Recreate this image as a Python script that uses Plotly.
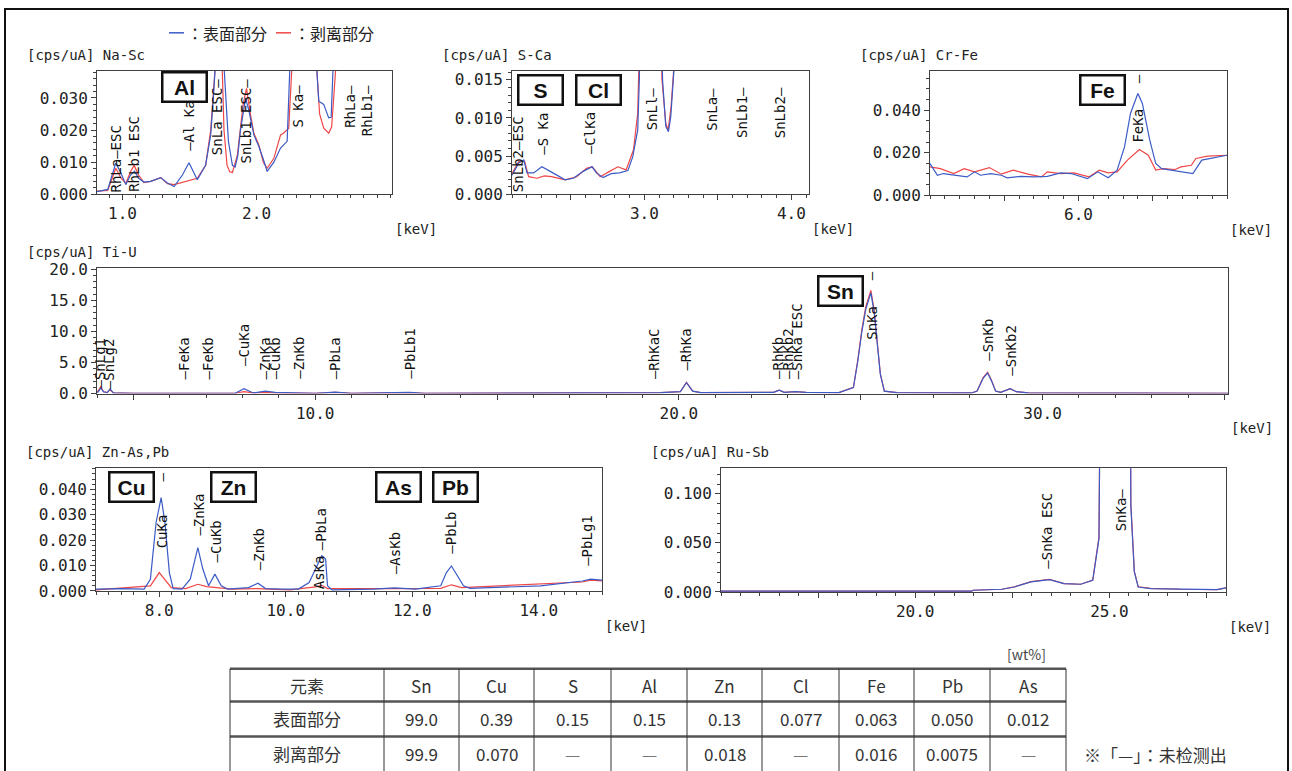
import plotly.graph_objects as go

W, H = 1292, 771
BLUE = "#3b5bc6"
RED = "#f04646"
AXC = "#404040"
MONO = "DejaVu Sans Mono"
CJK = "Noto Sans CJK JP"

# ---------------- spectra (keV, cps/uA) ----------------
# Na-Sc
nasc_blue_kev = [0.81, 0.89, 0.95, 0.99, 1.025, 1.06, 1.09, 1.12, 1.16, 1.21, 1.285, 1.335, 1.385, 1.447, 1.496,
                 1.53, 1.558, 1.62, 1.658, 1.682, 1.70, 1.75, 1.77, 1.79, 1.82, 1.84, 1.86, 1.88, 1.918, 1.943,
                 1.98, 2.017, 2.05, 2.079, 2.129, 2.179, 2.228, 2.253, 2.44, 2.464, 2.501, 2.538, 2.556, 2.576, 2.65]
nasc_blue_cps = [0.0008, 0.0015, 0.0097, 0.0065, 0.0030, 0.0060, 0.0072, 0.0050, 0.0038, 0.0040, 0.0052, 0.0035,
                 0.0024, 0.0060, 0.0098, 0.0070, 0.0045, 0.0090, 0.0185, 0.033, 0.045, 0.045, 0.030, 0.0165,
                 0.0090, 0.0085, 0.0120, 0.0200, 0.0300, 0.0260, 0.0185, 0.0149, 0.0110, 0.0071, 0.0100, 0.0144,
                 0.0165, 0.045, 0.045, 0.0290, 0.0280, 0.0238, 0.0240, 0.045, 0.045]
nasc_red_kev = [0.81, 0.89, 0.95, 0.99, 1.025, 1.06, 1.087, 1.12, 1.16, 1.21, 1.285, 1.335, 1.385, 1.447, 1.496,
                1.558, 1.62, 1.658, 1.682, 1.70, 1.74, 1.757, 1.78, 1.80, 1.82, 1.856, 1.90, 1.925, 1.95, 1.98,
                2.017, 2.05, 2.079, 2.129, 2.179, 2.20, 2.24, 2.27, 2.44, 2.47, 2.501, 2.538, 2.56, 2.60, 2.65]
nasc_red_cps = [0.0010, 0.0012, 0.0081, 0.0050, 0.0034, 0.0070, 0.0090, 0.0060, 0.0036, 0.0040, 0.0052, 0.0033,
                0.0030, 0.0037, 0.0041, 0.0050, 0.0090, 0.0200, 0.034, 0.045, 0.045, 0.020, 0.0090, 0.0070,
                0.0068, 0.0120, 0.0280, 0.0330, 0.0260, 0.0190, 0.0154, 0.0100, 0.0081, 0.0112, 0.0185, 0.0190,
                0.0206, 0.045, 0.045, 0.0250, 0.0206, 0.0190, 0.0210, 0.045, 0.045]

# S-Ca
sca_blue_kev = [2.10, 2.146, 2.18, 2.202, 2.247, 2.303, 2.36, 2.404, 2.461, 2.517, 2.584, 2.645, 2.674, 2.719,
                2.775, 2.831, 2.888, 2.921, 2.955, 2.966, 2.98, 3.11, 3.124, 3.146, 3.164, 3.18, 3.202, 3.25, 4.12]
sca_blue_cps = [0.0025, 0.0041, 0.0045, 0.0028, 0.0028, 0.0036, 0.0030, 0.0025, 0.0019, 0.0021, 0.0030, 0.0036,
                0.0028, 0.0022, 0.0027, 0.0028, 0.0031, 0.0049, 0.0084, 0.0150, 0.030, 0.030, 0.0150, 0.0089,
                0.0082, 0.0102, 0.030, 0.030, 0.030]
sca_red_kev = [2.10, 2.146, 2.186, 2.213, 2.270, 2.32, 2.37, 2.461, 2.54, 2.607, 2.645, 2.70, 2.764, 2.82, 2.876,
               2.926, 2.955, 2.970, 2.98, 3.105, 3.12, 3.146, 3.162, 3.182, 3.205, 3.25, 4.12]
sca_red_cps = [0.0027, 0.0043, 0.0043, 0.0023, 0.0021, 0.0024, 0.0023, 0.0019, 0.0023, 0.0034, 0.0036, 0.0023,
               0.0030, 0.0036, 0.0032, 0.0058, 0.0106, 0.0150, 0.030, 0.030, 0.0150, 0.0093, 0.0084, 0.0115,
               0.030, 0.030, 0.030]

# Cr-Fe
crfe_blue_kev = [5.00, 5.05, 5.09, 5.16, 5.25, 5.30, 5.34, 5.41, 5.48, 5.52, 5.61, 5.70, 5.79, 5.88, 5.95, 6.06,
                 6.13, 6.20, 6.26, 6.31, 6.35, 6.40, 6.43, 6.48, 6.52, 6.56, 6.62, 6.69, 6.77, 6.83, 6.89, 6.95, 7.00]
crfe_blue_cps = [0.0149, 0.0094, 0.0102, 0.0094, 0.0086, 0.0110, 0.0094, 0.0102, 0.0094, 0.0082, 0.0089, 0.0086,
                 0.0089, 0.0105, 0.0102, 0.0078, 0.0110, 0.0082, 0.0118, 0.0227, 0.0384, 0.0478, 0.0431, 0.0259,
                 0.0149, 0.0125, 0.0118, 0.0110, 0.0102, 0.0165, 0.0173, 0.0184, 0.0188]
crfe_red_kev = [5.00, 5.07, 5.16, 5.23, 5.30, 5.40, 5.48, 5.56, 5.66, 5.75, 5.79, 5.88, 5.97, 6.07, 6.14, 6.20,
                6.26, 6.33, 6.41, 6.47, 6.52, 6.57, 6.65, 6.69, 6.76, 6.79, 6.87, 7.00]
crfe_red_cps = [0.0133, 0.0125, 0.0102, 0.0125, 0.0110, 0.0130, 0.0099, 0.0118, 0.0099, 0.0086, 0.0110, 0.0102,
                0.0105, 0.0086, 0.0118, 0.0105, 0.0110, 0.0165, 0.0215, 0.0188, 0.0118, 0.0125, 0.0121, 0.0133,
                0.0141, 0.0173, 0.0184, 0.0188]

# Ti-U
tiu_kev = [4.00, 4.04, 4.10, 4.18, 4.28, 4.36, 4.45, 5.0, 7.8, 8.04, 8.3, 8.63, 8.9, 10.0, 10.55, 11.0, 12.6, 13.0,
           19.5, 20.04, 20.21, 20.38, 20.6, 22.6, 22.76, 22.9, 23.2, 23.5, 24.4, 24.80, 24.92, 25.03, 25.14, 25.28,
           25.37, 25.45, 25.54, 25.65, 26.0, 28.05, 28.20, 28.37, 28.49, 28.60, 28.71, 28.85, 29.0, 29.11, 29.28,
           29.6, 35.1]
tiu_blue_cps = [0.2, 0.3, 0.9, 0.3, 0.15, 0.75, 0.1, 0.05, 0.05, 0.8, 0.1, 0.4, 0.2, 0.05, 0.25, 0.05, 0.2, 0.05,
                0.15, 0.3, 1.75, 0.4, 0.15, 0.2, 0.55, 0.2, 0.3, 0.2, 0.15, 0.95, 5.2, 9.9, 13.6, 16.2, 13.1, 7.8,
                3.1, 0.4, 0.15, 0.1, 0.4, 2.5, 3.3, 2.0, 0.4, 0.2, 0.5, 0.8, 0.3, 0.1, 0.05]
tiu_red_cps = [0.3, 0.5, 1.1, 0.3, 0.15, 0.6, 0.1, 0.05, 0.05, 0.3, 0.1, 0.2, 0.1, 0.05, 0.2, 0.05, 0.15, 0.05,
               0.15, 0.3, 1.8, 0.4, 0.15, 0.2, 0.55, 0.2, 0.3, 0.2, 0.15, 1.0, 5.4, 10.2, 14.0, 16.6, 13.4, 8.0,
               3.2, 0.4, 0.15, 0.1, 0.4, 2.6, 3.4, 2.1, 0.4, 0.2, 0.5, 0.8, 0.3, 0.1, 0.05]

# Zn-As,Pb
znas_blue_kev = [7.0, 7.40, 7.76, 7.86, 7.95, 8.03, 8.09, 8.16, 8.22, 8.36, 8.49, 8.61, 8.69, 8.78, 8.88, 8.98,
                 9.08, 9.41, 9.56, 9.68, 9.94, 10.20, 10.37, 10.47, 10.57, 10.63, 10.66, 10.73, 11.39, 11.72, 12.05,
                 12.45, 12.54, 12.62, 12.71, 12.81, 12.91, 13.37, 14.03, 14.69, 14.82, 15.02]
znas_blue_cps = [0.0007, 0.0009, 0.0007, 0.0046, 0.0269, 0.0367, 0.0269, 0.0072, 0.0009, 0.0007, 0.0046, 0.0170,
                 0.0085, 0.0020, 0.0066, 0.0020, 0.0007, 0.0013, 0.0030, 0.0009, 0.0007, 0.0007, 0.0033, 0.0085,
                 0.0138, 0.0125, 0.0020, 0.0004, 0.0007, 0.0012, 0.0007, 0.0020, 0.0072, 0.0098, 0.0059, 0.0020,
                 0.0010, 0.0014, 0.0020, 0.0039, 0.0046, 0.0042]
znas_red_kev = [7.0, 7.86, 8.00, 8.09, 8.19, 8.42, 8.61, 8.75, 8.88, 9.15, 9.54, 10.07, 10.47, 10.57, 10.66, 11.39,
                11.72, 12.45, 12.62, 12.78, 13.37, 14.03, 14.69, 14.82, 15.02]
znas_red_cps = [0.0004, 0.0020, 0.0072, 0.0046, 0.0013, 0.0009, 0.0026, 0.0017, 0.0013, 0.0007, 0.0009, 0.0004,
                0.0016, 0.0022, 0.0009, 0.0007, 0.0009, 0.0010, 0.0024, 0.0013, 0.0020, 0.0025, 0.0035, 0.0042,
                0.0039]

# Ru-Sb
rusb_kev = [15.0, 21.45, 21.49, 22.23, 22.55, 22.98, 23.46, 23.83, 24.26, 24.57, 24.73, 24.82, 25.51, 25.55, 25.64,
            25.74, 26.06, 26.81, 27.77, 28.0]
rusb_blue_cps = [0.0007, 0.0007, 0.0017, 0.0027, 0.0050, 0.0102, 0.0125, 0.0085, 0.0078, 0.0119, 0.054, 0.5, 0.5,
                 0.088, 0.0203, 0.0050, 0.0034, 0.0027, 0.0024, 0.0041]
rusb_red_cps = [0.0007, 0.0007, 0.0017, 0.0027, 0.0052, 0.0105, 0.0128, 0.0085, 0.0078, 0.0120, 0.056, 0.5, 0.5,
                0.090, 0.0210, 0.0052, 0.0036, 0.0027, 0.0024, 0.0041]

# ---------------- peak line labels: (text, keV, cps, anchor of text box) ----------------
nasc_lines = [("RhLa—ESC", 0.95, 0.0, "bottom"), ("RhLb1 ESC", 1.09, 0.0, "bottom"),
              ("—Al Ka", 1.49, 0.0128, "bottom"), ("SnLa ESC—", 1.70, 0.0366, "top"),
              ("SnLb1 ESC—", 1.92, 0.0368, "top"), ("S Ka—", 2.31, 0.0347, "top"),
              ("RhLa—", 2.70, 0.0347, "top"), ("RhLb1—", 2.83, 0.0347, "top")]
sca_lines = [("SnLb2—ESC", 2.14, 0.0, "bottom"), ("—S Ka", 2.31, 0.0049, "bottom"),
             ("—ClKa", 2.63, 0.0050, "bottom"), ("SnLl—", 3.05, 0.0143, "top"),
             ("SnLa—", 3.46, 0.0143, "top"), ("SnLb1—", 3.66, 0.0143, "top"), ("SnLb2—", 3.92, 0.0143, "top")]
crfe_lines = [("FeKa", 6.40, 0.0416, "top"), ("—", 6.40, 0.0580, "top")]
tiu_lines = [("—SnLg1", 4.07, 0.5, "bottom"), ("—SnLg2", 4.33, 0.3, "bottom"), ("—FeKa", 6.40, 2.0, "bottom"),
             ("—FeKb", 7.06, 2.0, "bottom"), ("—CuKa", 8.04, 4.1, "bottom"), ("—ZnKa", 8.63, 2.0, "bottom"),
             ("—CuKb", 8.90, 2.0, "bottom"), ("—ZnKb", 9.57, 2.0, "bottom"), ("—PbLa", 10.55, 2.0, "bottom"),
             ("—PbLb1", 12.61, 2.0, "bottom"), ("—RhKaC", 19.30, 2.0, "bottom"), ("—RhKa", 20.21, 3.3, "bottom"),
             ("—RhKb", 22.72, 2.0, "bottom"), ("—RhKb2", 22.98, 2.0, "bottom"), ("—SnKa ESC", 23.25, 2.0, "bottom"),
             ("SnKa", 25.30, 14.4, "top"), ("—", 25.27, 20.0, "top"),
             ("—SnKb", 28.49, 4.9, "bottom"), ("—SnKb2", 29.11, 2.5, "bottom")]
znas_lines = [("CuKa", 8.04, 0.0308, "top"), ("—", 8.04, 0.0475, "top"), ("—ZnKa", 8.63, 0.0210, "bottom"),
              ("—CuKb", 8.90, 0.0105, "bottom"), ("—ZnKb", 9.57, 0.0072, "bottom"), ("AsKa", 10.53, 0.0, "bottom"),
              ("—PbLa", 10.55, 0.0150, "bottom"), ("—AsKb", 11.73, 0.0059, "bottom"),
              ("—PbLb", 12.61, 0.0138, "bottom"), ("—PbLg1", 14.76, 0.0092, "bottom")]
rusb_lines = [("—SnKa ESC", 23.40, 0.022, "bottom"), ("SnKa—", 25.32, 0.108, "top")]

# ---------------- tick labels ----------------
nasc_xt, nasc_xl = [1.0, 2.0], ["1.0", "2.0"]
nasc_yt, nasc_yl = [0, 0.01, 0.02, 0.03], ["0.000", "0.010", "0.020", "0.030"]
sca_xt, sca_xl = [2.5, 3.0, 3.5, 4.0], ["", "3.0", "", "4.0"]
sca_yt, sca_yl = [0, 0.005, 0.010, 0.015], ["0.000", "0.005", "0.010", "0.015"]
crfe_xt, crfe_xl = [5.5, 6.0, 6.5], ["", "6.0", ""]
crfe_yt, crfe_yl = [0, 0.02, 0.04], ["0.000", "0.020", "0.040"]
tiu_xt, tiu_xl = [5, 10, 15, 20, 25, 30, 35], ["", "10.0", "", "20.0", "", "30.0", ""]
tiu_yt, tiu_yl = [0, 5, 10, 15, 20], ["0.0", "5.0", "10.0", "15.0", "20.0"]
znas_xt, znas_xl = [8, 9, 10, 11, 12, 13, 14], ["8.0", "", "10.0", "", "12.0", "", "14.0"]
znas_yt, znas_yl = [0, 0.01, 0.02, 0.03, 0.04], ["0.000", "0.010", "0.020", "0.030", "0.040"]
rusb_xt, rusb_xl = [17.5, 20, 22.5, 25, 27.5], ["", "20.0", "", "25.0", ""]
rusb_yt, rusb_yl = [0, 0.05, 0.10], ["0.000", "0.050", "0.100"]

# ---------------- table ----------------
tbl_head = "元素"
tbl_elements = ["Sn", "Cu", "S", "Al", "Zn", "Cl", "Fe", "Pb", "As"]
tbl_rows = ["表面部分", "剥离部分"]
tbl_surface = ["99.0", "0.39", "0.15", "0.15", "0.13", "0.077", "0.063", "0.050", "0.012"]
tbl_peeled = ["99.9", "0.070", "—", "—", "0.018", "—", "0.016", "0.0075", "—"]

element_boxes = ["Al", "S", "Cl", "Fe", "Sn", "Cu", "Zn", "As", "Pb"]
legend_names = ["：表面部分", "：剥离部分"]

# ---------------- layout geometry (pixels of the target picture) ----------------
panels = [
    dict(title="[cps/uA] Na-Sc", box=(97, 392, 70, 194), xr=[0.81, 3.01], yr=[0, 0.0385],
         xt=nasc_xt, xl=nasc_xl, xm=0.1, yt=nasc_yt, yl=nasc_yl, ym=0.002,
         blue=(nasc_blue_kev, nasc_blue_cps), red=(nasc_red_kev, nasc_red_cps), lines=nasc_lines),
    dict(title="[cps/uA] S-Ca", box=(512, 809, 70, 194), xr=[2.10, 4.12], yr=[0, 0.0162],
         xt=sca_xt, xl=sca_xl, xm=0.1, yt=sca_yt, yl=sca_yl, ym=0.001,
         blue=(sca_blue_kev, sca_blue_cps), red=(sca_red_kev, sca_red_cps), lines=sca_lines),
    dict(title="[cps/uA] Cr-Fe", box=(930, 1227, 70, 195), xr=[5.0, 7.0], yr=[0, 0.0585],
         xt=crfe_xt, xl=crfe_xl, xm=0.1, yt=crfe_yt, yl=crfe_yl, ym=0.005,
         blue=(crfe_blue_kev, crfe_blue_cps), red=(crfe_red_kev, crfe_red_cps), lines=crfe_lines),
    dict(title="[cps/uA] Ti-U", box=(97, 1228, 268, 394), xr=[4.0, 35.1], yr=[0, 20.2],
         xt=tiu_xt, xl=tiu_xl, xm=1, yt=tiu_yt, yl=tiu_yl, ym=1,
         blue=(tiu_kev, tiu_blue_cps), red=(tiu_kev, tiu_red_cps), lines=tiu_lines),
    dict(title="[cps/uA] Zn-As,Pb", box=(96, 602, 469, 592), xr=[7.0, 15.0], yr=[0, 0.0482],
         xt=znas_xt, xl=znas_xl, xm=0.2, yt=znas_yt, yl=znas_yl, ym=0.002,
         blue=(znas_blue_kev, znas_blue_cps), red=(znas_red_kev, znas_red_cps), lines=znas_lines),
    dict(title="[cps/uA] Ru-Sb", box=(721, 1226, 469, 593), xr=[15.0, 28.0], yr=[0, 0.126],
         xt=rusb_xt, xl=rusb_xl, xm=0.5, yt=rusb_yt, yl=rusb_yl, ym=0.01,
         blue=(rusb_kev, rusb_blue_cps), red=(rusb_kev, rusb_red_cps), lines=rusb_lines),
]
box_centers = [(184.5, 86.5), (540.5, 89), (598.5, 89), (1102.5, 89), (840.5, 291.5),
               (131.5, 488), (233.5, 488), (398, 488), (455, 488)]

# vertical calibration of the photographed page
OY, SY = 7.1, 0.98


def px(x):
    return x / W


def py(y):
    return 1 - ((y - OY) / SY) / H


fig = go.Figure()
layout = {}
annotations = []
shapes = []

tickfont = dict(family=MONO, size=16, color="#222")

for i, p in enumerate(panels, start=1):
    sfx = "" if i == 1 else str(i)
    l, r, t, b = p["box"]
    common = dict(showline=True, linecolor=AXC, linewidth=1, mirror=True, showgrid=False, zeroline=False,
                  ticks="outside", ticklen=5, tickwidth=1, tickcolor=AXC, tickfont=tickfont, fixedrange=True)
    layout["xaxis" + sfx] = dict(domain=[px(l), px(r)], range=p["xr"], anchor="y" + sfx,
                                 tickmode="array", tickvals=p["xt"], ticktext=p["xl"],
                                 minor=dict(tickmode="linear", tick0=0, dtick=p["xm"], ticks="outside",
                                            ticklen=3, tickcolor=AXC, showgrid=False), **common)
    layout["yaxis" + sfx] = dict(domain=[py(b), py(t)], range=p["yr"], anchor="x" + sfx,
                                 tickmode="array", tickvals=p["yt"], ticktext=p["yl"],
                                 minor=dict(tickmode="linear", tick0=0, dtick=p["ym"], ticks="outside",
                                            ticklen=3, tickcolor=AXC, showgrid=False), **common)
    fig.add_trace(go.Scatter(x=p["red"][0], y=p["red"][1], mode="lines", line=dict(color=RED, width=1.2),
                             xaxis="x" + sfx, yaxis="y" + sfx, showlegend=False, hoverinfo="skip"))
    fig.add_trace(go.Scatter(x=p["blue"][0], y=p["blue"][1], mode="lines", line=dict(color=BLUE, width=1.2),
                             xaxis="x" + sfx, yaxis="y" + sfx, showlegend=False, hoverinfo="skip"))
    for text, kx, ky, anc in p["lines"]:
        annotations.append(dict(x=kx, y=ky, xref="x" + sfx, yref="y" + sfx, text=text, textangle=-90,
                                showarrow=False, xanchor="center", yanchor=anc,
                                font=dict(family=MONO, size=14, color="#111")))
    annotations.append(dict(x=px(l - 72), y=py(t - 16), xref="paper", yref="paper", text=p["title"],
                            showarrow=False, xanchor="left", yanchor="middle",
                            font=dict(family=MONO, size=14, color="#222")))
    annotations.append(dict(x=px(r + 1), y=py(b + 35), xref="paper", yref="paper", text="[keV]",
                            showarrow=False, xanchor="left", yanchor="middle",
                            font=dict(family=MONO, size=14, color="#222")))

# element boxes
for name, (cx, cy) in zip(element_boxes, box_centers):
    annotations.append(dict(x=px(cx), y=py(cy), xref="paper", yref="paper", text=name, showarrow=False,
                            xanchor="center", yanchor="middle", width=38, height=23, borderpad=2,
                            bordercolor="#111", borderwidth=2.5, bgcolor="white",
                            font=dict(family="Liberation Sans", size=21, color="#111", weight="bold")))

# legend (coloured dash + text)
for (x0, col), name in zip([(169, BLUE), (276, RED)], legend_names):
    shapes.append(dict(type="line", xref="paper", yref="paper", x0=px(x0), x1=px(x0 + 15), y0=py(32), y1=py(32),
                       line=dict(color=col, width=1.5)))
    annotations.append(dict(x=px(x0 + 16), y=py(32), xref="paper", yref="paper", showarrow=False, xanchor="left",
                            yanchor="middle", text=name, font=dict(family=CJK, size=16, color="#222")))

# outer frame
shapes.append(dict(type="rect", xref="paper", yref="paper", x0=px(5), x1=px(1288), y0=py(800), y1=py(8.2),
                   line=dict(color="#111", width=2), fillcolor="rgba(0,0,0,0)"))

# table
col_edges = [230, 384, 459, 534, 611, 687, 762, 839, 914, 990, 1066]
row_edges = [670, 703, 738, 790]
for yy in row_edges[:-1]:
    shapes.append(dict(type="line", xref="paper", yref="paper", x0=px(col_edges[0]), x1=px(col_edges[-1]),
                       y0=py(yy), y1=py(yy), line=dict(color="#555", width=2.5)))
for xx in col_edges:
    shapes.append(dict(type="line", xref="paper", yref="paper", x0=px(xx), x1=px(xx),
                       y0=py(row_edges[0]), y1=py(row_edges[-1]), line=dict(color="#333", width=1)))

table_rows = [[tbl_head] + tbl_elements, [tbl_rows[0]] + tbl_surface, [tbl_rows[1]] + tbl_peeled]
row_centers = [686.5, 720.5, 755]
tfont = dict(family=CJK, size=17, color="#333")
for ri, row in enumerate(table_rows):
    cy = row_centers[ri]
    for ci, val in enumerate(row):
        cx = (col_edges[ci] + col_edges[ci + 1]) / 2
        f = dict(tfont)
        if val == "—":
            f["color"] = "#777"
        annotations.append(dict(x=px(cx), y=py(cy), xref="paper", yref="paper", text=val, showarrow=False,
                                xanchor="center", yanchor="middle", font=f))

annotations.append(dict(x=px(1026), y=py(655), xref="paper", yref="paper", text="[wt%]", showarrow=False,
                        xanchor="center", yanchor="middle", font=dict(family=CJK, size=14, color="#444")))
annotations.append(dict(x=px(1082), y=py(756), xref="paper", yref="paper", text="※「—」：未检测出",
                        showarrow=False, xanchor="left", yanchor="middle", font=dict(family=CJK, size=17, color="#333")))

fig.update_layout(width=W, height=H, margin=dict(l=0, r=0, t=0, b=0), paper_bgcolor="white",
                  plot_bgcolor="white", showlegend=False, annotations=annotations, shapes=shapes, **layout)

fig.write_html("out.html", config={"displayModeBar": False},
               post_script=("var de=document.documentElement,bd=document.body;"
                            "de.style.margin='0';de.style.padding='0';de.style.overflow='hidden';"
                            "bd.style.margin='0';bd.style.padding='0';bd.style.overflow='hidden';"
                            "var gd=document.getElementsByClassName('plotly-graph-div')[0];"
                            "gd.style.position='absolute';gd.style.top='0px';gd.style.left='0px';"))
